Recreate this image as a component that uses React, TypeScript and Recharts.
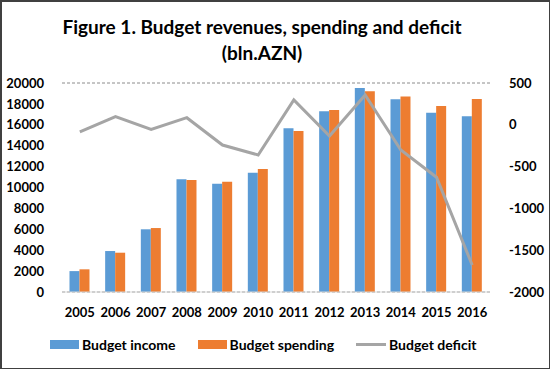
import React from "react"
import { Bar, CartesianGrid, ComposedChart, Line, XAxis, YAxis } from "recharts"

const years = ["2005", "2006", "2007", "2008", "2009", "2010", "2011", "2012", "2013", "2014", "2015", "2016"]
const budgetIncome = [2000, 3920, 6000, 10780, 10360, 11420, 15660, 17290, 19520, 18440, 17160, 16810]
const budgetSpending = [2170, 3760, 6120, 10720, 10560, 11770, 15400, 17420, 19200, 18720, 17800, 18470]
const budgetDeficit = [-86, 97, -54, 85, -242, -361, 297, -134, 357, -301, -628, -1677]

const leftTicks = [0, 2000, 4000, 6000, 8000, 10000, 12000, 14000, 16000, 18000, 20000]
const rightTicks = [-2000, -1500, -1000, -500, 0, 500]

const data = years.map((year, i) => ({
    year,
    "Budget income": budgetIncome[i],
    "Budget spending": budgetSpending[i],
    "Budget deficit": budgetDeficit[i],
}))

const FONT = "Lato, 'Open Sans', sans-serif"
const tickStyle = { fontFamily: FONT, fontWeight: 700, fontSize: 13, fill: "#000" }

const legendItems = [
    { name: "Budget income", color: "#5B9BD5", type: "bar" },
    { name: "Budget spending", color: "#ED7D31", type: "bar" },
    { name: "Budget deficit", color: "#A5A5A5", type: "line" },
]

const App = () => {
    return (
        <div style={{ position: "absolute", left: 0, top: 0, width: 550, height: 369, boxSizing: "border-box", border: "1px solid #404040", borderLeftWidth: 2, borderTopWidth: 2, background: "#fff", overflow: "hidden" }}>
            <div style={{ position: "absolute", left: -15, top: 12, width: 550, textAlign: "center", fontFamily: FONT, fontWeight: 700, fontSize: 19, lineHeight: "26px", color: "#000" }}>
                Figure 1. Budget revenues, spending and deficit
                <br />
                (bln.AZN)
            </div>
            <div style={{ position: "absolute", left: -2, top: -2 }}>
                <ComposedChart
                    width={550}
                    height={369}
                    data={data}
                    barGap={0}
                    barCategoryGap="21%"
                    margin={{ top: 83, right: 4, bottom: 47, left: 0 }}
                >
                    <CartesianGrid vertical={false} stroke="#8c8c8c" strokeDasharray="3 2" />
                    <XAxis dataKey="year" height={30} tick={tickStyle} tickLine={false} axisLine={{ stroke: "#d9d9d9" }} tickMargin={10} interval={0} />
                    <YAxis yAxisId="left" width={62} domain={[0, 20000]} ticks={leftTicks} tick={tickStyle} tickLine={false} axisLine={false} tickMargin={12} interval={0} />
                    <YAxis yAxisId="right" orientation="right" width={56} domain={[-2000, 500]} ticks={rightTicks} tick={tickStyle} tickLine={false} axisLine={false} tickMargin={13} interval={0} />
                    <Bar yAxisId="left" dataKey="Budget income" fill="#5B9BD5" isAnimationActive={false} />
                    <Bar yAxisId="left" dataKey="Budget spending" fill="#ED7D31" isAnimationActive={false} />
                    <Line yAxisId="right" dataKey="Budget deficit" stroke="#A5A5A5" strokeWidth={3} dot={false} isAnimationActive={false} />
                </ComposedChart>
            </div>
            <div style={{ position: "absolute", left: 48, top: 334, display: "flex", alignItems: "center", fontFamily: FONT, fontWeight: 700, fontSize: 14, color: "#000" }}>
                {legendItems.map((item) => (
                    <div key={item.name} style={{ display: "flex", alignItems: "center", marginRight: 22 }}>
                        {item.type === "bar" ? (
                            <span style={{ display: "inline-block", width: 29, height: 9, background: item.color, marginRight: 3 }} />
                        ) : (
                            <span style={{ display: "inline-block", width: 30, height: 3, background: item.color, marginRight: 3 }} />
                        )}
                        <span>{item.name}</span>
                    </div>
                ))}
            </div>
        </div>
    )
}

export default App
